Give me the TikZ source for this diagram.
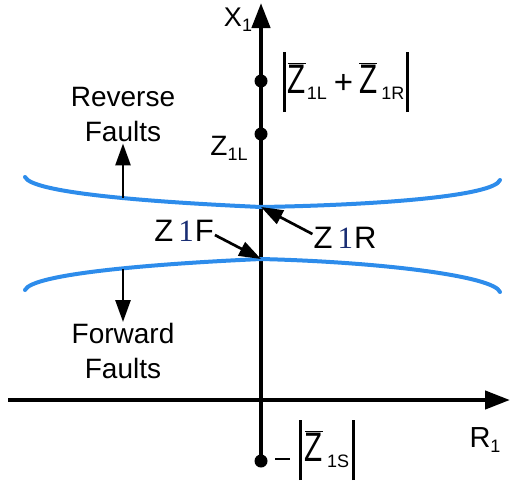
\documentclass[tikz,border=0pt]{standalone}
\usepackage{fontspec}
\setmainfont{Liberation Sans}
\newfontfamily\oneserif{Liberation Serif}
\usepackage{xcolor}
\usepackage{graphicx}
\usetikzlibrary{positioning,arrows.meta}

\definecolor{curveblue}{RGB}{45,140,235}
\definecolor{onenavy}{RGB}{25,45,115}

\newcommand{\lowidx}[1]{\raisebox{-0.35ex}{\fontsize{18}{18}\selectfont #1}}
\newcommand{\zbar}{$\overline{\mbox{\scalebox{0.9}[1.25]{Z}}}$}
\newcommand{\absbar}{\raisebox{-19pt}{\rule{2.6pt}{60pt}}}
\newcommand{\serifone}{\hspace{5pt}{\oneserif\color{onenavy}1}\hspace{1pt}}

\begin{document}
\begin{tikzpicture}[
    x=1pt, y=-1pt,
    axis/.style={line width=4.3pt, -{Triangle[length=25pt,width=18pt]}},
    fault curve/.style={draw=curveblue, line width=4pt, line cap=round},
    arrow/.style={line width=2.7pt, -{Triangle[length=22pt,width=15pt]}},
    dot/.style={circle, fill=black, inner sep=0pt, minimum size=13pt},
    label/.style={font=\fontsize{28}{35}\selectfont, inner sep=1pt, align=center},
    big/.style={font=\fontsize{33}{35}\selectfont, inner sep=0pt}
]
\useasboundingbox (0,0) rectangle (510,482);

% axes
\node[dot] (dtop) at (261,81) {};
\node[dot] (dmid) at (261,134) {};
\node[dot] (dbot) at (261,461) {};
\coordinate (xtip) at (261,3);
\coordinate (rstart) at (8,400);
\coordinate (rtip) at (510,400);
\draw[axis] (dbot.center) -- (xtip);
\draw[axis] (rstart) -- (rtip);
\node[label, font=\fontsize{27}{30}\selectfont] (xlab) at (238,20) {X\lowidx{1}};
\node[label, font=\fontsize{29}{30}\selectfont] (rlab) at (485,440) {R\lowidx{1}};

% impedance labels
\node[big] (zsum) at (346,82) {\absbar\hspace{2pt}\zbar\hspace{1pt}\lowidx{1L}\hspace{7pt}+\hspace{6pt}\zbar\hspace{4pt}\lowidx{1R}\hspace{2pt}\absbar};
\node[label] (zl) at (229,148) {Z\lowidx{1L}};
\node[big] (zs) at (315,450) {\rule[1pt]{15pt}{2pt}\hspace{9pt}\absbar\hspace{3pt}\zbar\hspace{4pt}\lowidx{1S}\hspace{3pt}\absbar};

% fault curves
\draw[fault curve] (25,177) .. controls (32,193) and (150,202) .. (261,207)
    .. controls (380,205) and (494,196) .. (500,180);
\draw[fault curve] (25,290) .. controls (32,274) and (150,264) .. (261,259)
    .. controls (380,262) and (494,276) .. (500,292);
\coordinate (rcross) at (261,207);
\coordinate (fcross) at (261,259);
\coordinate (rtick) at (123,198);
\coordinate (ftick) at (123,269);

% Reverse / Forward
\node[label] (rev) at (123,115) {Reverse\\Faults};
\node[label] (fwd) at (123,351) {Forward\\Faults};
\draw[arrow] (rtick) -- (rev.south);
\draw[arrow] (ftick) -- (fwd.north);

% Z1F and Z1R
\node[label, font=\fontsize{31}{31}\selectfont] (zf) at (184,231) {Z\serifone F};
\node[label, font=\fontsize{31}{31}\selectfont] (zr) at (345,238) {Z\serifone R};
\draw[arrow] (zf.east) ++(0,4) -- (fcross);
\draw[arrow] (zr.west) ++(0,-4) -- (rcross);

\end{tikzpicture}
\end{document}
